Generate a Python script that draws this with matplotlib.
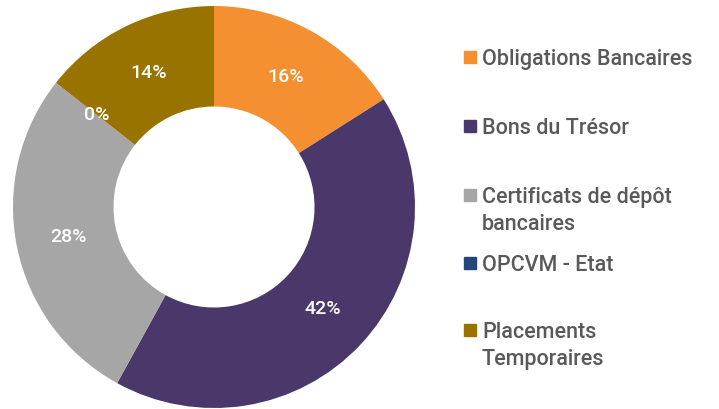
import matplotlib.pyplot as plt
from matplotlib.patches import Rectangle
import numpy as np

# Données
categories = ['Obligations Bancaires', 'Bons du Trésor', 'Certificats de dépôt\nbancaires',
              'OPCVM - Etat', 'Placements\nTemporaires']
valeurs = [16.0, 42.0, 27.6, 0.0, 14.4]
couleurs = ['#F59032', '#4B386B', '#A6A6A6', '#234578', '#997300']

W, H = 719, 409
fig = plt.figure(figsize=(W / 100, H / 100), dpi=100)

# Axe du donut (centre ~ (214, 207) px, rayon ~ 201 px)
cx, cy, r = 214, 207, 201
ax = fig.add_axes([(cx - r) / W, (H - cy - r) / H, 2 * r / W, 2 * r / H])
wedges, _ = ax.pie(valeurs, colors=couleurs, startangle=90, counterclock=False,
                   radius=1, wedgeprops=dict(width=0.5, linewidth=0))
ax.set_xlim(-1, 1)
ax.set_ylim(-1, 1)
ax.set_aspect('equal')
ax.axis('off')

# Etiquettes de pourcentage
for w, v in zip(wedges, valeurs):
    ang = np.deg2rad((w.theta1 + w.theta2) / 2)
    x, y = 0.74 * np.cos(ang), 0.74 * np.sin(ang)
    ax.text(x, y, f'{round(v):.0f}%', ha='center', va='center', color='white',
            fontsize=14, family='Roboto', fontweight='medium')

# Légende manuelle
y_centres = [57, 126, 195, 263, 330]
for lab, col, yc in zip(categories, couleurs, y_centres):
    fig.patches.append(Rectangle((464 / W, 1 - (yc + 6) / H), 12 / W, 12 / H,
                                 transform=fig.transFigure, color=col))
    for i, ligne in enumerate(lab.split('\n')):
        fig.text(482 / W, 1 - (yc + i * 27) / H, ligne, ha='left', va='center_baseline',
                 color='#595959', fontsize=15.5, family='Roboto', fontweight='medium')

plt.savefig('out.png', dpi=100)
